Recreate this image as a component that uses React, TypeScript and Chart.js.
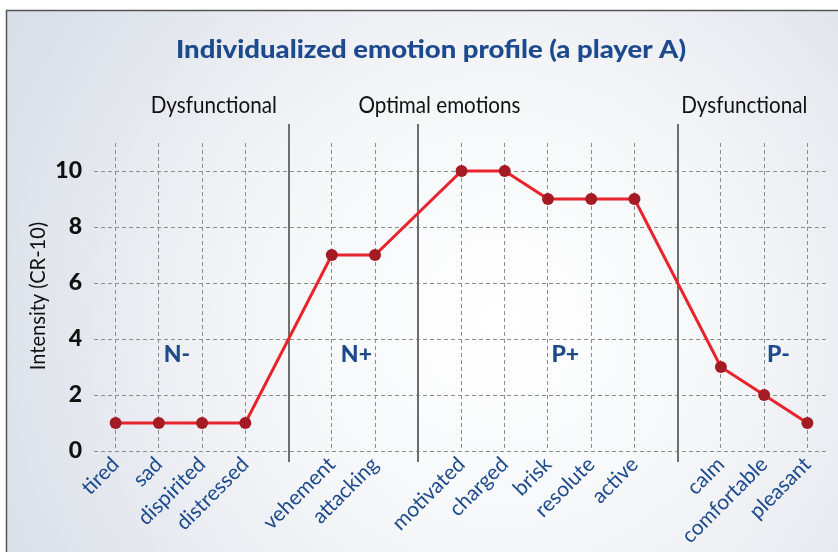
import React, { useEffect, useRef } from "react";
import { Chart, registerables } from "chart.js";

Chart.register(...registerables);

const categories = [
  "tired", "sad", "dispirited", "distressed", "",
  "vehement", "attacking", "",
  "motivated", "charged", "brisk", "resolute", "active", "",
  "calm", "comfortable", "pleasant",
];
const intensity = [1, 1, 1, 1, null, 7, 7, null, 10, 10, 9, 9, 9, null, 3, 2, 1];
const separatorIndices = [4, 7, 13];
const sectionLabels = ["Dysfunctional", "Optimal emotions", "Dysfunctional"];
const sectionPositions = [2.27, 7.49, 14.54];
const zoneLabels = ["N-", "N+", "P+", "P-"];
const zonePositions = [1.42, 5.57, 10.4, 15.33];
const zoneValue = 3.43;
const yTicks = [0, 2, 4, 6, 8, 10];

const TITLE = "Individualized emotion profile (a player A)";
const Y_TITLE = "Intensity (CR-10)";
const FONT = "Lato, 'Open Sans', sans-serif";
const BLUE = "#1d4a8c";

const W = 838;
const H = 552;

function drawScaled(ctx: any, text: string, cx: number, cy: number, sx: number) {
  ctx.save();
  ctx.translate(cx, cy);
  ctx.scale(sx, 1);
  ctx.fillText(text, 0, 0);
  ctx.restore();
}

const decorPlugin = {
  id: "decor",
  beforeDraw(chart: any) {
    const ctx = chart.ctx;
    ctx.save();
    ctx.fillStyle = "#ffffff";
    ctx.fillRect(0, 0, W, H);
    const g = ctx.createRadialGradient(500, 320, 0, 500, 320, 560);
    g.addColorStop(0, "#ffffff");
    g.addColorStop(0.4, "#f6f7f9");
    g.addColorStop(1, "#d9dee7");
    ctx.fillStyle = g;
    ctx.fillRect(6, 10, W - 6, H - 10);
    ctx.strokeStyle = "#555555";
    ctx.lineWidth = 1.5;
    ctx.beginPath();
    ctx.moveTo(6.5, H);
    ctx.lineTo(6.5, 10.5);
    ctx.lineTo(W, 10.5);
    ctx.stroke();
    ctx.restore();
  },
  beforeDatasetsDraw(chart: any) {
    const ctx = chart.ctx;
    const x = chart.scales.x;
    const area = chart.chartArea;
    ctx.save();
    ctx.strokeStyle = "#6e6e6e";
    ctx.lineWidth = 2;
    separatorIndices.forEach((i) => {
      const px = Math.round(x.getPixelForValue(i));
      ctx.beginPath();
      ctx.moveTo(px, area.top - 19);
      ctx.lineTo(px, area.bottom + 11);
      ctx.stroke();
    });
    ctx.restore();
  },
  afterDraw(chart: any) {
    const ctx = chart.ctx;
    const x = chart.scales.x;
    const y = chart.scales.y;
    const area = chart.chartArea;
    ctx.save();
    ctx.textAlign = "center";
    ctx.textBaseline = "middle";
    ctx.fillStyle = BLUE;
    ctx.font = `900 25px ${FONT}`;
    drawScaled(ctx, TITLE, 431, 50, 1.1);

    ctx.fillStyle = "#111111";
    ctx.font = `24px ${FONT}`;
    sectionLabels.forEach((t, i) => {
      drawScaled(ctx, t, x.getPixelForValue(sectionPositions[i]), area.top - 38, 0.86);
    });

    ctx.fillStyle = BLUE;
    ctx.font = `900 23px ${FONT}`;
    zoneLabels.forEach((t, i) => {
      ctx.fillText(t, x.getPixelForValue(zonePositions[i]), y.getPixelForValue(zoneValue));
    });

    ctx.fillStyle = "#111111";
    ctx.font = `22px ${FONT}`;
    ctx.translate(38, 296);
    ctx.rotate(-Math.PI / 2);
    ctx.scale(0.91, 1);
    ctx.fillText(Y_TITLE, 0, 0);
    ctx.restore();
  },
};

export default function App() {
  const ref = useRef<HTMLCanvasElement | null>(null);
  useEffect(() => {
    if (!ref.current) return;
    const chart = new Chart(ref.current, {
      type: "line",
      data: {
        labels: categories,
        datasets: [
          {
            data: intensity,
            borderColor: "#e8232b",
            borderWidth: 3,
            pointRadius: 6,
            pointBackgroundColor: "#a51b23",
            pointBorderColor: "#a51b23",
            pointBorderWidth: 0,
            spanGaps: true,
            tension: 0,
          },
        ],
      },
      options: {
        responsive: false,
        animation: false,
        devicePixelRatio: 1,
        layout: { padding: { top: 143, right: 9, left: 0, bottom: 0 } },
        plugins: { legend: { display: false }, title: { display: false }, tooltip: { enabled: false } },
        scales: {
          x: {
            type: "category",
            offset: true,
            border: { display: false, dash: [4, 3] },
            grid: {
              offset: false,
              drawTicks: false,
              color: (c: any) => (separatorIndices.includes(c.index) ? "rgba(0,0,0,0)" : "#8c8c8c"),
              lineWidth: 1,
            },
            ticks: {
              autoSkip: false,
              maxRotation: 45,
              minRotation: 45,
              padding: 1,
              color: BLUE,
              font: { family: FONT, size: 21 },
            },
            afterFit: (s: any) => {
              s.height = 101;
            },
          } as any,
          y: {
            min: 0,
            max: 11,
            border: { display: false, dash: [4, 3] },
            grid: { drawTicks: false, color: "#8c8c8c", lineWidth: 1 },
            ticks: {
              stepSize: 2,
              padding: 12,
              color: "#111111",
              font: { family: FONT, size: 23, weight: "900" },
            },
            afterBuildTicks: (s: any) => {
              s.ticks = yTicks.map((v) => ({ value: v }));
            },
            afterFit: (s: any) => {
              s.width = 94;
            },
          } as any,
        },
      },
      plugins: [decorPlugin],
    });
    return () => chart.destroy();
  }, []);
  return (
    <div style={{ position: "absolute", left: 0, top: 0, width: W, height: H }}>
      <canvas ref={ref} width={W} height={H} style={{ display: "block" }} />
    </div>
  );
}
